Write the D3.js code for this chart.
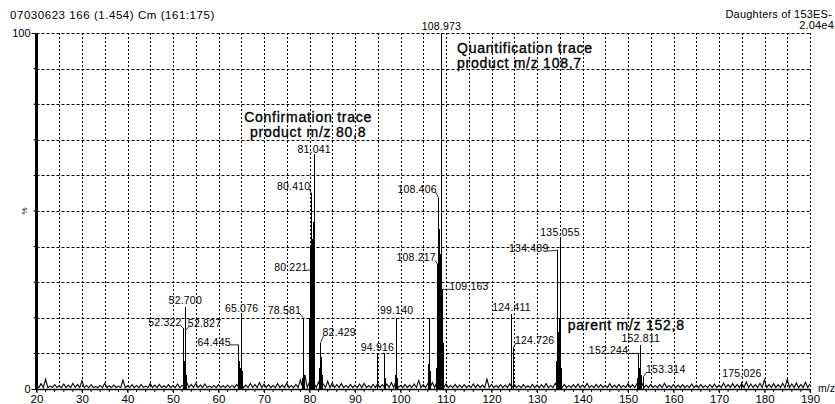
<!DOCTYPE html>
<html>
<head>
<meta charset="utf-8">
<script src="https://cdn.jsdelivr.net/npm/d3@7"></script>
<style>
  body { margin: 0; background: #fff; }
  svg { display: block; font-family: "Liberation Sans", Arial, sans-serif; }
</style>
</head>
<body>
<svg id="chart" width="835" height="404"></svg>
<script>
"use strict";

// header texts
var titleLeft = "07030623 166 (1.454) Cm (161:175)";
var titleRight = ["Daughters of 153ES-", "2.04e4"];

// axis ticks
var xTickLabels = [20, 30, 40, 50, 60, 70, 80, 90, 100, 110, 120, 130, 140, 150, 160, 170, 180, 190];
var yTickLabels = [0, 100];

// spectrum sticks (m/z, % relative intensity)
var peakMz = [
    52.20, 52.322, 52.50, 52.700, 52.827, 53.00,
    64.445, 64.60, 64.80, 65.076, 65.20,
    78.40, 78.581, 78.80,
    79.90, 80.10, 80.221, 80.30, 80.410, 80.60, 80.80, 80.90, 81.041, 81.20,
    82.30, 82.429, 82.60, 82.80,
    94.916, 96.40, 96.60,
    98.90, 99.140, 99.30,
    106.10, 106.30, 106.50,
    107.90, 108.10, 108.217, 108.30, 108.406, 108.60, 108.80, 108.973, 109.05, 109.163, 109.30, 109.50,
    124.30, 124.411, 124.50, 124.726, 124.90,
    134.30, 134.489, 134.70, 134.90, 135.055, 135.20, 135.40,
    152.10, 152.244, 152.50, 152.811, 153.00, 153.314,
    175.026
];
var peakInt = [
    5, 17, 8, 23, 16.5, 4,
    12.4, 8, 6, 20.8, 5,
    3, 20, 4,
    4, 20, 33.4, 40, 55, 42, 47, 20, 66, 12,
    6, 13, 9, 4,
    10, 10, 3,
    4, 20, 3,
    7, 20, 5,
    6, 26, 35, 33, 53.6, 45, 38, 100, 71, 28, 12, 13,
    5, 21, 12, 11.5, 4,
    8, 39, 16, 20, 42.7, 33, 6,
    3, 10, 6, 12.4, 4, 3.4,
    2
];

// baseline noise, one value per m/z unit from 20 to 190
var noiseStart = 20;
var noise = [
    1.0, 1.5, 2.8, 0.8, 1.2, 0.9, 1.4, 1.1, 1.6, 1.3,
    2.3, 1.0, 1.2, 0.7, 1.0, 1.6, 0.9, 1.1, 0.8, 2.5,
    0.9, 1.2, 1.0, 1.3, 0.8, 1.5, 1.1, 1.3, 0.9, 1.2,
    1.0, 1.4, 1.0, 2.0, 1.3, 1.6, 1.1, 1.4, 0.8, 1.0,
    1.2, 0.9, 1.1, 1.0, 1.3, 1.5, 1.1, 1.6, 1.3, 1.8,
    1.4, 1.2, 1.0, 1.5, 1.1, 1.7, 1.0, 1.3, 2.5, 4.0,
    2.0, 1.5, 2.0, 1.4, 2.2, 1.7, 1.2, 1.5, 1.0, 1.3,
    1.1, 1.4, 1.6, 1.0, 1.3, 1.5, 1.2, 1.4, 1.8, 2.2,
    1.0, 1.3, 1.1, 1.4, 2.4, 1.2, 1.5, 1.8, 2.0, 1.5,
    1.4, 1.0, 1.3, 1.1, 1.2, 1.0, 1.4, 1.2, 1.1, 2.8,
    1.3, 1.0, 1.2, 1.1, 1.5, 1.3, 1.0, 1.2, 0.9, 1.3,
    1.1, 1.2, 1.5, 1.0, 1.6, 2.0, 1.3, 1.0, 1.2, 1.4,
    1.1, 1.6, 1.0, 1.3, 1.2, 1.0, 1.5, 1.1, 1.3, 1.0,
    1.5, 1.2, 1.6, 1.8, 1.1, 1.3, 1.0, 1.2, 1.6, 1.0,
    1.3, 1.1, 1.2, 1.0, 1.4, 1.1, 1.3, 1.0, 1.2, 1.4,
    1.1, 1.7, 1.2, 1.5, 1.3, 1.6, 2.0, 1.4, 1.2, 1.6,
    2.6, 1.3, 1.5, 1.2, 1.6, 2.8, 1.4, 1.7, 1.3, 1.9,
    1.5
];

// labelled peaks
var labelMz = [52.322, 52.700, 52.827, 64.445, 65.076, 78.581, 80.221, 80.410, 81.041, 82.429,
    94.916, 99.140, 108.217, 108.406, 108.973, 109.163, 124.411, 124.726, 134.489, 135.055,
    152.244, 152.811, 153.314, 175.026];

// annotations: text lines, product/parent m/z they refer to, height (%) of first line
var noteLines = [
    ["Confirmation trace", "product m/z 80,8"],
    ["Quantification trace", "product m/z 108,7"],
    ["parent m/z 152,8"]
];
var noteMz = [80.8, 108.7, 152.8];
var noteLevel = [75, 94.4, 16.6];

// ---- layout ----
var width = 835, height = 404;
var svg = d3.select("#chart");
svg.append("rect").attr("width", width).attr("height", height).attr("fill", "#fff");

var x = d3.scaleLinear().domain([20, 190]).range([36.5, 810]);
var y = d3.scaleLinear().domain([0, 100]).range([389, 33]);

// where each peak label sits: side, dx, dy (pixels from peak top, dy to text middle)
var labelPlace = [
    ["l", -2, -6], ["c", 0, -7], ["r", 2, -7], ["l", -8, -3], ["c", 0, -7], ["l", -2, -7],
    ["l", -3, -3], ["l", -1, -7], ["c", 0, -5], ["r", 2, -10], ["c", 0, -6], ["c", 0, -7],
    ["l", -2, -7], ["l", -2, -9], ["c", 0, -7], ["r", 7, -3], ["c", 0, -7], ["r", 2, -8],
    ["l", -9, -2], ["c", 0, -5], ["l", -10, -3], ["c", 0, -7], ["r", 3, -8], ["c", 0, -9]
];

// grid
svg.append("g")
    .selectAll("line")
    .data(d3.range(10, 101, 10))
    .enter()
    .append("line")
    .attr("x1", x(20)).attr("x2", x(190))
    .attr("y1", function (d) { return Math.round(y(d)) + 0.5; })
    .attr("y2", function (d) { return Math.round(y(d)) + 0.5; })
    .attr("stroke", "#000")
    .attr("stroke-dasharray", "3,2");

svg.append("g")
    .selectAll("line")
    .data(d3.range(25, 191, 5))
    .enter()
    .append("line")
    .attr("x1", function (d) { return Math.round(x(d)) + 0.5; })
    .attr("x2", function (d) { return Math.round(x(d)) + 0.5; })
    .attr("y1", y(100)).attr("y2", y(0))
    .attr("stroke", "#000")
    .attr("stroke-dasharray", "2,2");

// noise band
var noisePts = [];
noise.forEach(function (v, i) {
    var m = noiseStart + i;
    noisePts.push([m, v]);
    if (m < 190) noisePts.push([m + 0.5, 0.4]);
});
svg.append("path")
    .datum(noisePts)
    .attr("fill", "none")
    .attr("stroke", "#000")
    .attr("stroke-width", 1.1)
    .attr("d", d3.line()
        .x(function (d) { return x(d[0]); })
        .y(function (d) { return y(d[1]); }));

// peaks
svg.append("g")
    .selectAll("line")
    .data(peakMz)
    .enter()
    .append("line")
    .attr("shape-rendering", "crispEdges")
    .attr("x1", function (d) { return x(d); })
    .attr("x2", function (d) { return x(d); })
    .attr("y1", y(0))
    .attr("y2", function (d, i) { return y(peakInt[i]); })
    .attr("stroke", "#000")
    .attr("stroke-width", 1);

// x axis
svg.append("line")
    .attr("x1", x(20)).attr("x2", x(190))
    .attr("y1", y(0) + 0.5).attr("y2", y(0) + 0.5)
    .attr("stroke", "#000").attr("stroke-width", 1.5);

svg.append("g")
    .selectAll("line")
    .data(d3.range(20, 191, 2))
    .enter()
    .append("line")
    .attr("x1", function (d) { return x(d); })
    .attr("x2", function (d) { return x(d); })
    .attr("y1", y(0))
    .attr("y2", y(0) + 3)
    .attr("stroke", "#000");

var xAxis = svg.append("g")
    .attr("transform", "translate(0," + y(0) + ")")
    .call(d3.axisBottom(x).tickValues(xTickLabels).tickSize(4).tickPadding(2));
xAxis.select(".domain").remove();
xAxis.selectAll("text").attr("font-size", "11.5px").attr("font-family", null).attr("fill", "#000");

svg.append("text")
    .attr("x", 818).attr("y", 392)
    .attr("font-size", "10.5px")
    .text("m/z");

// y axis
svg.append("g")
    .selectAll("line")
    .data(d3.range(10, 100, 10))
    .enter()
    .append("line")
    .attr("x1", x(20) - 3).attr("x2", x(20))
    .attr("y1", function (d) { return y(d); })
    .attr("y2", function (d) { return y(d); })
    .attr("stroke", "#000");

var yAxis = svg.append("g")
    .attr("transform", "translate(" + x(20) + ",0)")
    .call(d3.axisLeft(y).tickValues(yTickLabels).tickSize(5).tickPadding(1));
yAxis.select(".domain").remove();
yAxis.selectAll("text").attr("font-size", "11px").attr("font-family", null).attr("fill", "#000");

svg.append("line")
    .attr("x1", x(20)).attr("x2", x(20))
    .attr("y1", y(100)).attr("y2", y(0) + 1)
    .attr("stroke", "#000").attr("stroke-width", 3);

svg.append("text")
    .attr("transform", "translate(27," + y(50) + ") rotate(-90)")
    .attr("text-anchor", "middle")
    .attr("font-size", "8px")
    .text("%");

// header
svg.append("text")
    .attr("x", 10).attr("y", 19)
    .attr("font-size", "11.5px")
    .attr("letter-spacing", "0.55px")
    .text(titleLeft);

svg.selectAll(".hdr")
    .data(titleRight)
    .enter()
    .append("text")
    .attr("class", "hdr")
    .attr("x", function (d, i) { return i === 0 ? 832 : 834; })
    .attr("y", function (d, i) { return 18 + i * 11; })
    .attr("text-anchor", "end")
    .attr("font-size", "11px")
    .attr("letter-spacing", "0.2px")
    .text(function (d) { return d; });

// peak labels
var labels = svg.append("g").attr("font-size", "10.5px");
labelMz.forEach(function (m, i) {
    var k = peakMz.indexOf(m);
    var px = x(m), py = y(peakInt[k]);
    var p = labelPlace[i];
    var tx = px + p[1], ty = py + p[2];
    var anchor = p[0] === "c" ? "middle" : (p[0] === "l" ? "end" : "start");
    labels.append("text")
        .attr("x", tx)
        .attr("y", ty)
        .attr("dy", "0.35em")
        .attr("text-anchor", anchor)
        .attr("letter-spacing", "0.2px")
        .text(m.toFixed(3));
    if (p[0] !== "c") {
        labels.append("line")
            .attr("x1", tx + (p[0] === "l" ? -1 : 1))
            .attr("y1", ty + 3)
            .attr("x2", px)
            .attr("y2", py)
            .attr("stroke", "#000")
            .attr("stroke-width", 0.8);
    }
});

// annotations: [dx from m/z, anchor]
var notePlace = [[-5, "middle"], [17, "start"], [-73, "start"]];
noteLines.forEach(function (lines, i) {
    var t = svg.append("text")
        .attr("font-size", "14px")
        .attr("letter-spacing", "0.75px")
        .attr("stroke", "#000")
        .attr("stroke-width", 0.35)
        .attr("text-anchor", notePlace[i][1]);
    lines.forEach(function (line, j) {
        t.append("tspan")
            .attr("x", x(noteMz[i]) + notePlace[i][0])
            .attr("y", y(noteLevel[i]) + j * 15)
            .text(line);
    });
});
</script>
</body>
</html>
